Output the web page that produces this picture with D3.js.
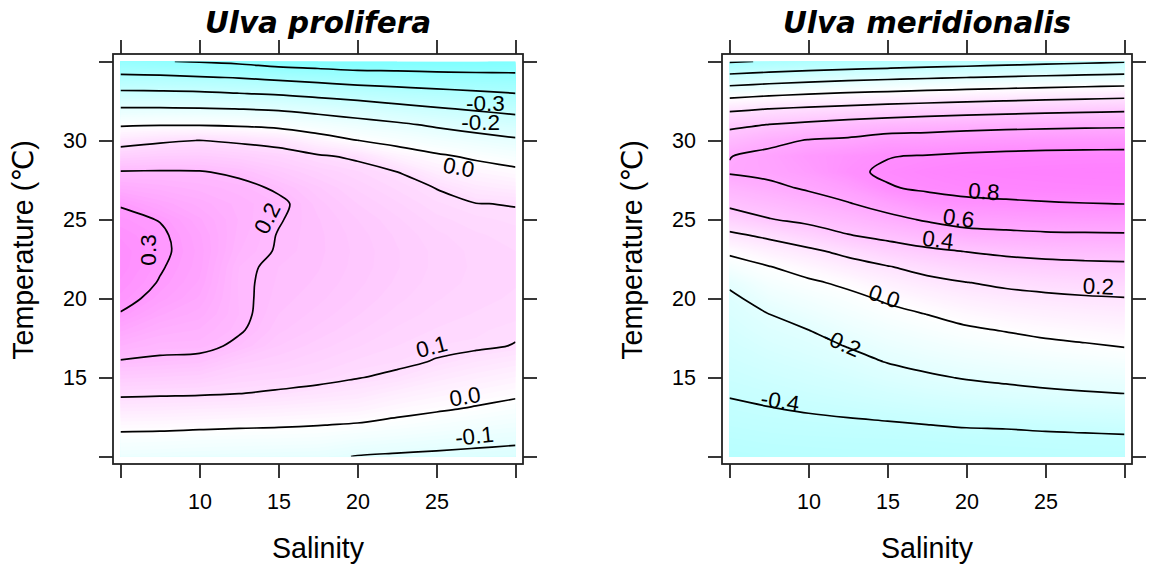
<!DOCTYPE html>
<html>
<head>
<meta charset="utf-8">
<script src="https://cdn.jsdelivr.net/npm/d3@7/dist/d3.min.js"></script>
<style>
  body { margin: 0; background: #ffffff; }
  svg text { font-family: "Liberation Sans", Arial, Helvetica, "DejaVu Sans", sans-serif; fill: #000; }
</style>
</head>
<body>
<svg id="chart" width="1155" height="568"></svg>
<script>
// grid the two response surfaces were read on
const salinity = [5, 7.5, 10, 12.5, 15, 17.5, 20, 22.5, 25, 27.5, 30];
const temperature = [10, 11, 12, 13, 14, 15, 16, 17, 18, 19, 20, 21, 22, 23, 24, 25, 26, 27, 28, 29, 30, 31, 32, 33, 34, 35];

const salinityTicks = [5, 10, 15, 20, 25, 30];
const salinityTickLabels = [10, 15, 20, 25];
const temperatureTicks = [10, 15, 20, 25, 30, 35];
const temperatureTickLabels = [15, 20, 25, 30];

// Ulva prolifera: one array per salinity column, values from 10 to 35 C
const proliferaBySalinity = [
  [-0.065, -0.025, 0.020, 0.066, 0.111, 0.153, 0.196, 0.230, 0.263, 0.297, 0.316, 0.328, 0.337, 0.338, 0.328, 0.313, 0.296, 0.247, 0.204, 0.141, 0.072, -0.008, -0.093, -0.184, -0.282, -0.380],
  [-0.070, -0.027, 0.018, 0.064, 0.108, 0.149, 0.190, 0.215, 0.238, 0.262, 0.285, 0.297, 0.304, 0.310, 0.308, 0.298, 0.267, 0.236, 0.205, 0.151, 0.090, -0.004, -0.093, -0.186, -0.285, -0.397],
  [-0.075, -0.032, 0.014, 0.060, 0.106, 0.144, 0.183, 0.215, 0.229, 0.245, 0.258, 0.268, 0.274, 0.276, 0.272, 0.262, 0.246, 0.226, 0.204, 0.153, 0.101, -0.005, -0.095, -0.190, -0.295, -0.405],
  [-0.078, -0.035, 0.010, 0.056, 0.101, 0.128, 0.154, 0.190, 0.205, 0.210, 0.209, 0.208, 0.210, 0.221, 0.226, 0.229, 0.226, 0.215, 0.190, 0.143, 0.090, -0.011, -0.101, -0.201, -0.305, -0.418],
  [-0.082, -0.037, 0.007, 0.050, 0.093, 0.122, 0.143, 0.160, 0.173, 0.180, 0.185, 0.188, 0.190, 0.196, 0.198, 0.203, 0.210, 0.193, 0.162, 0.130, 0.075, -0.022, -0.110, -0.211, -0.322, -0.440],
  [-0.085, -0.040, 0.002, 0.043, 0.082, 0.116, 0.130, 0.145, 0.157, 0.166, 0.173, 0.178, 0.181, 0.183, 0.183, 0.181, 0.175, 0.162, 0.140, 0.108, 0.034, -0.045, -0.128, -0.229, -0.337, -0.450],
  [-0.103, -0.055, -0.005, 0.037, 0.072, 0.102, 0.118, 0.131, 0.142, 0.151, 0.158, 0.163, 0.166, 0.167, 0.165, 0.160, 0.150, 0.138, 0.122, 0.090, 0.001, -0.067, -0.148, -0.245, -0.353, -0.460],
  [-0.110, -0.064, -0.018, 0.020, 0.052, 0.090, 0.110, 0.120, 0.128, 0.136, 0.143, 0.148, 0.151, 0.151, 0.148, 0.142, 0.132, 0.118, 0.101, 0.039, -0.023, -0.087, -0.171, -0.262, -0.359, -0.460],
  [-0.115, -0.073, -0.031, 0.007, 0.037, 0.067, 0.097, 0.110, 0.119, 0.126, 0.131, 0.135, 0.137, 0.137, 0.133, 0.124, 0.112, 0.099, 0.053, 0.011, -0.047, -0.112, -0.192, -0.275, -0.367, -0.462],
  [-0.120, -0.082, -0.044, -0.006, 0.024, 0.052, 0.080, 0.108, 0.112, 0.119, 0.124, 0.127, 0.128, 0.127, 0.122, 0.113, 0.101, 0.067, 0.030, -0.011, -0.069, -0.134, -0.209, -0.288, -0.373, -0.462],
  [-0.124, -0.090, -0.055, -0.021, 0.011, 0.039, 0.067, 0.098, 0.106, 0.113, 0.118, 0.121, 0.122, 0.120, 0.115, 0.107, 0.098, 0.054, 0.015, -0.032, -0.088, -0.155, -0.226, -0.301, -0.378, -0.455]
];
const proliferaLevels = [-0.4, -0.3, -0.2, -0.1, 0.0, 0.1, 0.2, 0.3];
// [text, salinity, temperature, tilt in degrees]
const proliferaLabels = [
  ["-0.3", 28.1, 32.33, 0],
  ["-0.2", 27.8, 31.17, 0],
  ["0.0", 26.4, 28.29, -10],
  ["0.2", 14.3, 25.07, 63],
  ["0.3", 6.8, 23.07, 90],
  ["0.1", 24.7, 16.93, 15],
  ["0.0", 26.8, 13.77, 9],
  ["-0.1", 27.4, 11.28, 6]
];

// Ulva meridionalis
const meridionalisBySalinity = [
  [-0.500, -0.475, -0.448, -0.420, -0.391, -0.365, -0.339, -0.313, -0.286, -0.260, -0.233, -0.173, -0.071, 0.028, 0.166, 0.311, 0.434, 0.519, 0.612, 0.596, 0.482, 0.362, 0.165, -0.075, -0.343, -0.615],
  [-0.490, -0.465, -0.435, -0.405, -0.372, -0.340, -0.305, -0.270, -0.235, -0.201, -0.135, -0.071, -0.006, 0.106, 0.232, 0.392, 0.481, 0.566, 0.635, 0.645, 0.554, 0.403, 0.201, -0.043, -0.309, -0.590],
  [-0.485, -0.460, -0.428, -0.390, -0.352, -0.314, -0.276, -0.238, -0.201, -0.141, -0.082, -0.024, 0.063, 0.168, 0.312, 0.441, 0.532, 0.618, 0.685, 0.710, 0.610, 0.436, 0.228, -0.015, -0.280, -0.566],
  [-0.480, -0.457, -0.420, -0.376, -0.330, -0.286, -0.240, -0.195, -0.140, -0.086, -0.040, 0.030, 0.133, 0.244, 0.393, 0.493, 0.590, 0.680, 0.775, 0.755, 0.630, 0.469, 0.252, 0.008, -0.257, -0.543],
  [-0.480, -0.455, -0.413, -0.358, -0.304, -0.249, -0.195, -0.143, -0.091, -0.039, 0.021, 0.106, 0.191, 0.320, 0.444, 0.556, 0.663, 0.790, 0.820, 0.795, 0.680, 0.495, 0.274, 0.026, -0.237, -0.523],
  [-0.475, -0.450, -0.401, -0.340, -0.279, -0.218, -0.162, -0.108, -0.054, 0.001, 0.078, 0.157, 0.253, 0.371, 0.494, 0.617, 0.740, 0.820, 0.850, 0.810, 0.684, 0.517, 0.293, 0.044, -0.220, -0.501],
  [-0.470, -0.445, -0.390, -0.323, -0.257, -0.191, -0.134, -0.077, -0.020, 0.048, 0.122, 0.196, 0.300, 0.405, 0.550, 0.657, 0.770, 0.840, 0.870, 0.828, 0.700, 0.535, 0.311, 0.061, -0.203, -0.485],
  [-0.468, -0.440, -0.386, -0.310, -0.239, -0.173, -0.113, -0.054, 0.007, 0.079, 0.150, 0.229, 0.329, 0.435, 0.562, 0.674, 0.779, 0.853, 0.880, 0.840, 0.712, 0.548, 0.327, 0.077, -0.187, -0.464],
  [-0.465, -0.436, -0.375, -0.296, -0.222, -0.156, -0.094, -0.031, 0.034, 0.102, 0.169, 0.252, 0.348, 0.455, 0.576, 0.684, 0.790, 0.860, 0.886, 0.848, 0.719, 0.558, 0.341, 0.093, -0.173, -0.447],
  [-0.462, -0.432, -0.367, -0.285, -0.209, -0.143, -0.078, -0.013, 0.052, 0.118, 0.184, 0.268, 0.359, 0.464, 0.580, 0.689, 0.797, 0.865, 0.890, 0.852, 0.723, 0.565, 0.353, 0.107, -0.160, -0.430],
  [-0.460, -0.430, -0.355, -0.277, -0.199, -0.130, -0.062, 0.006, 0.069, 0.131, 0.194, 0.278, 0.365, 0.469, 0.583, 0.692, 0.802, 0.868, 0.892, 0.855, 0.726, 0.570, 0.365, 0.120, -0.147, -0.413]
];
const meridionalisLevels = [-0.6, -0.4, -0.2, 0.0, 0.2, 0.4, 0.6, 0.8];
const meridionalisLabels = [
  ["0.8", 21.1, 26.75, -4],
  ["0.6", 19.5, 25.07, -8],
  ["0.4", 18.2, 23.7, -7],
  ["0.2", 28.35, 20.75, -2],
  ["0.0", 14.8, 20.12, -19],
  ["-0.2", 12.1, 17.18, -24],
  ["-0.4", 8.2, 13.49, -9]
];

const svg = d3.select('#chart');
const boxSize = 410, pad = 7.5, boxTop = 54;

// split each contour ring into the pieces that lie inside the data area
function isolines(values, n, m, level) {
  const c = d3.contours().size([n, m]).thresholds([level])(values)[0];
  const eps = 1e-6;
  const inside = p => p[0] >= 0.5 - eps && p[0] <= n - 0.5 + eps && p[1] >= 0.5 - eps && p[1] <= m - 0.5 + eps;
  const runs = [];
  c.coordinates.forEach(polygon => polygon.forEach(ring => {
    let pts = ring.slice();
    const a = pts[0], b = pts[pts.length - 1];
    if (a[0] === b[0] && a[1] === b[1]) pts = pts.slice(0, -1);
    const k = pts.findIndex(p => !inside(p));
    if (k < 0) { runs.push({ closed: true, pts }); return; }
    const rot = pts.slice(k).concat(pts.slice(0, k));
    let cur = [];
    rot.forEach(p => {
      if (inside(p)) cur.push(p);
      else { if (cur.length > 1) runs.push({ closed: false, pts: cur }); cur = []; }
    });
    if (cur.length > 1) runs.push({ closed: false, pts: cur });
  }));
  return runs;
}

function drawPanel(boxLeft, title, grid, levels, labels, colorDomain, id) {
  const x = d3.scaleLinear().domain([5, 30]).range([boxLeft + pad, boxLeft + boxSize - pad]);
  const y = d3.scaleLinear().domain([10, 35]).range([boxTop + boxSize - pad, boxTop + pad]);

  const n = salinity.length, m = temperature.length;
  const values = [];
  for (let j = 0; j < m; j++) for (let i = 0; i < n; i++) values.push(grid[i][j]);

  // contour grid coordinates -> pixels
  const gx = d3.scaleLinear().domain([0.5, n - 0.5]).range([x(salinity[0]), x(salinity[n - 1])]);
  const gy = d3.scaleLinear().domain([0.5, m - 0.5]).range([y(temperature[0]), y(temperature[m - 1])]);

  const g = svg.append('g');

  g.append('clipPath').attr('id', id)
    .append('rect')
    .attr('x', x(5)).attr('y', y(35))
    .attr('width', x(30) - x(5)).attr('height', y(10) - y(35));

  const plot = g.append('g').attr('clip-path', `url(#${id})`);

  // colour regions
  const zmin = d3.min(values), zmax = d3.max(values);
  const color = d3.scaleLinear().domain(colorDomain).range(['#80ffff', '#ffffff', '#ff80ff']).clamp(true);
  const bands = d3.range(Math.ceil(zmin * 100) / 100, zmax, 0.01);
  const filled = d3.contours().size([n, m]).thresholds(bands)(values);
  const proj = d3.geoTransform({ point(px, py) { this.stream.point(gx(px), gy(py)); } });
  const path = d3.geoPath(proj);

  plot.append('rect')
    .attr('x', x(5)).attr('y', y(35))
    .attr('width', x(30) - x(5)).attr('height', y(10) - y(35))
    .attr('fill', color(zmin));

  plot.selectAll('path.band')
    .data(filled)
    .join('path')
    .attr('class', 'band')
    .attr('d', path)
    .attr('fill', d => color(d.value + 0.005));

  // contour lines
  const openLine = d3.line().x(p => gx(p[0])).y(p => gy(p[1])).curve(d3.curveCatmullRom.alpha(0.5));
  const closedLine = d3.line().x(p => gx(p[0])).y(p => gy(p[1])).curve(d3.curveCatmullRomClosed.alpha(0.5));
  levels.forEach(level => {
    isolines(values, n, m, level).forEach(run => {
      plot.append('path')
        .attr('d', run.closed ? closedLine(run.pts) : openLine(run.pts))
        .attr('fill', 'none')
        .attr('stroke', '#000')
        .attr('stroke-width', 1.7);
    });
  });

  // contour labels
  g.selectAll('text.clab')
    .data(labels)
    .join('text')
    .attr('class', 'clab')
    .attr('transform', d => `translate(${x(d[1])},${y(d[2])}) rotate(${-d[3]})`)
    .attr('text-anchor', 'middle')
    .attr('dominant-baseline', 'central')
    .attr('font-size', 22.5)
    .text(d => d[0]);

  // box
  g.append('rect')
    .attr('x', boxLeft).attr('y', boxTop)
    .attr('width', boxSize).attr('height', boxSize)
    .attr('fill', 'none')
    .attr('stroke', '#222')
    .attr('stroke-width', 1.8);

  // axes
  const styleAxis = sel => {
    sel.select('.domain').remove();
    sel.selectAll('.tick line').attr('stroke', '#222').attr('stroke-width', 1.8);
    sel.selectAll('.tick text').attr('font-size', 21.5).attr('fill', '#000')
      .style('font-family', '"Liberation Sans", Arial, Helvetica, sans-serif');
  };
  const xLab = d => salinityTickLabels.includes(d) ? d : '';
  const yLab = d => temperatureTickLabels.includes(d) ? d : '';

  g.append('g')
    .attr('transform', `translate(0,${boxTop + boxSize})`)
    .call(d3.axisBottom(x).tickValues(salinityTicks).tickSize(14).tickPadding(15.5).tickFormat(xLab))
    .call(styleAxis);
  g.append('g')
    .attr('transform', `translate(0,${boxTop})`)
    .call(d3.axisTop(x).tickValues(salinityTicks).tickSize(14).tickFormat(''))
    .call(styleAxis);
  g.append('g')
    .attr('transform', `translate(${boxLeft},0)`)
    .call(d3.axisLeft(y).tickValues(temperatureTicks).tickSize(14).tickPadding(12).tickFormat(yLab))
    .call(styleAxis);
  g.append('g')
    .attr('transform', `translate(${boxLeft + boxSize},0)`)
    .call(d3.axisRight(y).tickValues(temperatureTicks).tickSize(14).tickFormat(''))
    .call(styleAxis);

  // titles
  g.append('text')
    .attr('x', boxLeft + boxSize / 2).attr('y', 33)
    .attr('text-anchor', 'middle')
    .attr('font-size', 29.4)
    .attr('font-weight', 'bold')
    .attr('font-style', 'italic')
    .style('font-family', '"DejaVu Sans", sans-serif')
    .text(title);

  g.append('text')
    .attr('x', boxLeft + boxSize / 2).attr('y', 558)
    .attr('text-anchor', 'middle')
    .attr('font-size', 28.6)
    .text('Salinity');

  g.append('text')
    .attr('transform', `translate(${boxLeft - 80},250) rotate(-90)`)
    .attr('text-anchor', 'middle')
    .attr('font-size', 28.6)
    .text('Temperature (\u2103)');
}

drawPanel(113, 'Ulva prolifera', proliferaBySalinity, proliferaLevels, proliferaLabels, [-0.46, 0, 0.38], 'clip-prolifera');
drawPanel(722, 'Ulva meridionalis', meridionalisBySalinity, meridionalisLevels, meridionalisLabels, [-0.89, 0, 0.89], 'clip-meridionalis');
</script>
</body>
</html>
